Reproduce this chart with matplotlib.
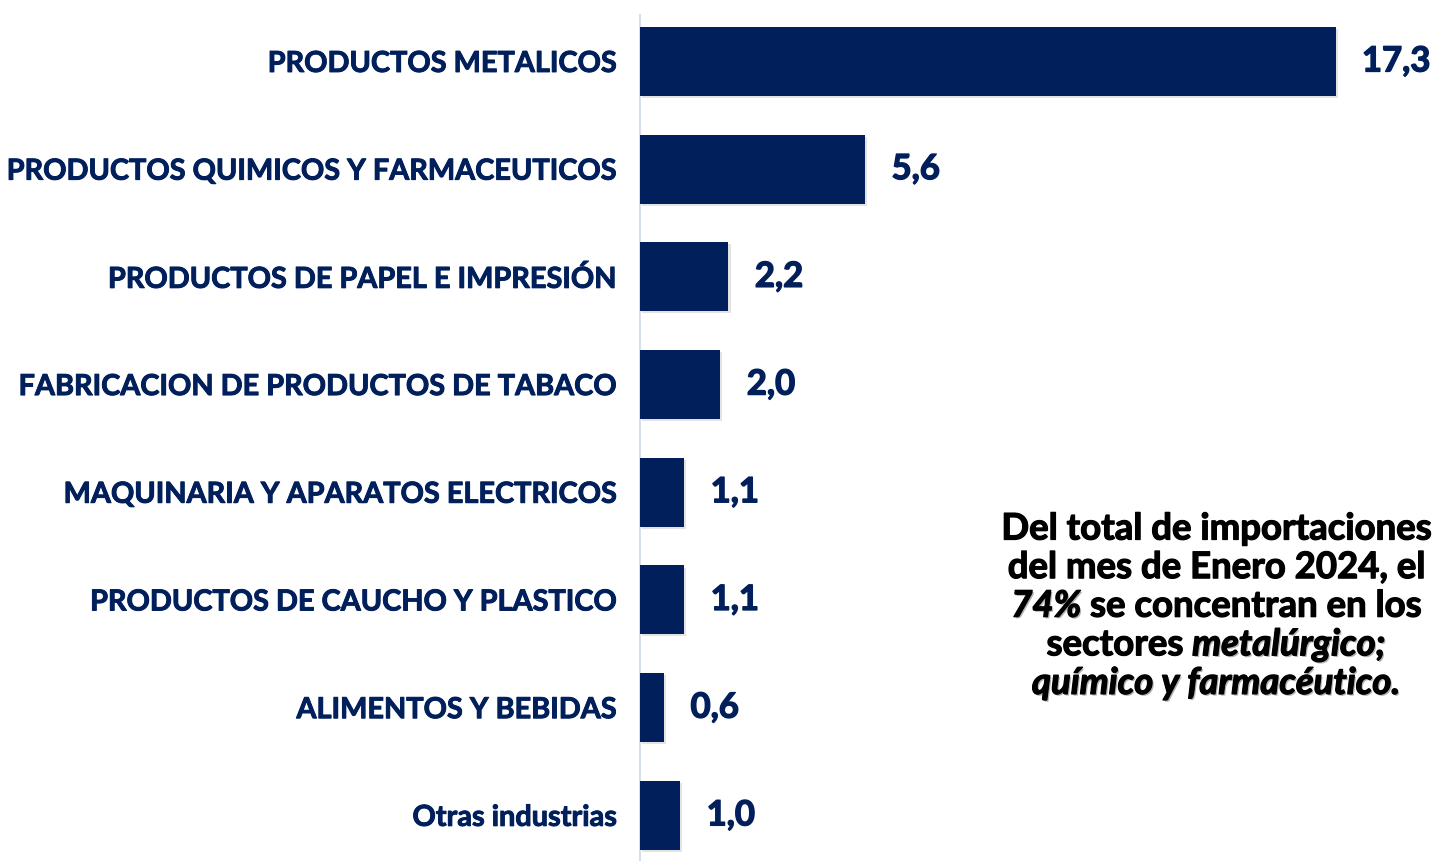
import matplotlib
matplotlib.use("Agg")
import matplotlib.pyplot as plt
import matplotlib.patheffects as pe

# data
categories = [
    "PRODUCTOS METALICOS",
    "PRODUCTOS QUIMICOS Y FARMACEUTICOS",
    "PRODUCTOS DE PAPEL E IMPRESIÓN",
    "FABRICACION DE PRODUCTOS DE TABACO",
    "MAQUINARIA Y APARATOS ELECTRICOS",
    "PRODUCTOS DE CAUCHO Y PLASTICO",
    "ALIMENTOS Y BEBIDAS",
    "Otras industrias",
]
values = [17.3, 5.6, 2.2, 2.0, 1.1, 1.1, 0.6, 1.0]

note_lines = [
    [("Del total de importaciones", "normal")],
    [("del mes de Enero 2024, el", "normal")],
    [("74%", "italic"), (" se concentran en los", "normal")],
    [("sectores ", "normal"), ("metalúrgico;", "italic")],
    [("químico y farmacéutico.", "italic")],
]

navy = "#001F5B"
W, H = 1434, 862
fig = plt.figure(figsize=(W / 100, H / 100), dpi=100)
ax = fig.add_axes([640 / W, 1 - 870.2 / H, 794 / W, 861.6 / H])

ypos = list(range(len(categories)))
bars = ax.barh(ypos, values, height=0.64, color=navy, zorder=3)
for b in bars:
    b.set_path_effects([pe.SimplePatchShadow(offset=(1.5, -1.5), shadow_rgbFace="#bbbbbb", alpha=0.4), pe.Normal()])

ax.set_xlim(0, 19.75)
ax.set_ylim(len(categories) - 0.5, -0.5)

heavy_navy = [pe.withStroke(linewidth=0.7, foreground=navy)]

ax.set_yticks(ypos)
ax.set_yticklabels(categories, fontsize=20.8, fontweight="bold", color=navy, family="Lato")
for lab in ax.get_yticklabels():
    lab.set_path_effects(heavy_navy)
ax.tick_params(axis="y", length=0, pad=16.5)
ax.set_xticks([])

for s in ["top", "right", "bottom"]:
    ax.spines[s].set_visible(False)
ax.spines["left"].set_color("#D6E0F0")
ax.spines["left"].set_linewidth(1.5)
ax.spines["left"].set_bounds(-0.43, len(categories) - 0.5)

for y, v in zip(ypos, values):
    ax.annotate(f"{v:.1f}".replace(".", ","), (v, y), xytext=(19, 0), textcoords="offset points",
                va="center", ha="left", fontsize=25, fontweight="bold", color=navy, family="Lato",
                path_effects=[pe.withStroke(linewidth=1.0, foreground=navy)])

# annotation on the right, centered lines with mixed styles
renderer = fig.canvas.get_renderer()
cx = 1216
y0 = 530
for i, line in enumerate(note_lines):
    yy = H - (y0 + i * 38.6)
    texts = []
    for txt, style in line:
        t = fig.text(0, yy / H, txt, fontsize=26.3, fontweight="bold", style=style,
                     family="Lato", color="black", va="center", ha="left")
        texts.append(t)
    widths = [t.get_window_extent(renderer).width for t in texts]
    x = cx - sum(widths) / 2
    for t, w in zip(texts, widths):
        t.set_x(x / W)
        if t.get_style() == "italic":
            t.set_path_effects([pe.SimplePatchShadow(offset=(1.2, -1.2), alpha=0.3),
                                pe.withStroke(linewidth=0.9, foreground="black")])
        else:
            t.set_path_effects([pe.withStroke(linewidth=0.9, foreground="black")])
        x += w

fig.savefig("out.png", dpi=100)
